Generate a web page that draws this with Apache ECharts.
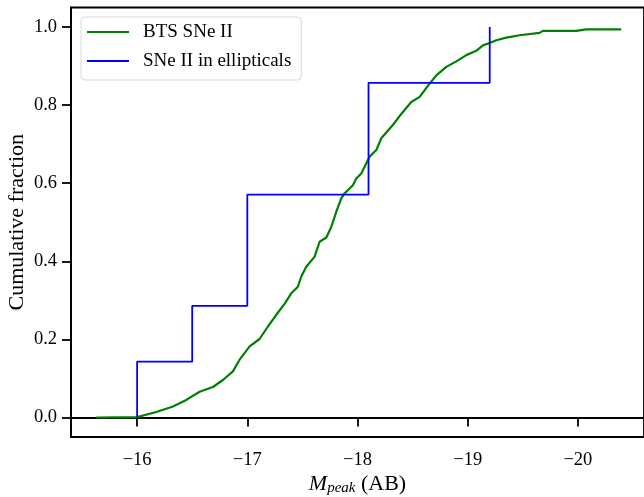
<!DOCTYPE html>
<html>
<head>
<meta charset="utf-8">
<script src="https://cdn.jsdelivr.net/npm/echarts@6/dist/echarts.min.js"></script>
<style>html,body{margin:0;padding:0;background:#fff}#c{width:644px;height:497px}</style>
</head>
<body>
<div id="c"></div>
<script>
// BTS SNe II cumulative distribution
var btsMag = [-15.63,-16.0,-16.174,-16.325,-16.446,-16.567,-16.688,-16.779,-16.869,-16.930,-17.021,-17.111,-17.187,-17.263,-17.338,-17.399,-17.459,-17.490,-17.535,-17.611,-17.656,-17.717,-17.762,-17.808,-17.853,-17.883,-17.958,-17.989,-18.034,-18.080,-18.110,-18.171,-18.216,-18.321,-18.382,-18.488,-18.564,-18.654,-18.715,-18.806,-18.897,-18.987,-19.078,-19.138,-19.199,-19.260,-19.350,-19.471,-19.652,-19.682,-19.985,-20.075,-20.393];
var btsFrac = [0,0.001,0.014,0.028,0.045,0.066,0.078,0.096,0.118,0.148,0.182,0.201,0.233,0.263,0.291,0.318,0.335,0.361,0.386,0.412,0.450,0.461,0.488,0.527,0.561,0.574,0.595,0.612,0.625,0.651,0.668,0.685,0.715,0.749,0.772,0.808,0.821,0.855,0.876,0.898,0.912,0.928,0.939,0.953,0.959,0.966,0.973,0.979,0.985,0.990,0.990,0.994,0.994];
// SNe II in ellipticals (step ECDF)
var ellMag = [-16.0,-16.0,-16.5,-17.0,-17.0,-18.1,-18.1,-19.2];
var ellFrac = [0,0.143,0.286,0.429,0.571,0.714,0.857,1.0];
// tick labels
var xTicks = [-20,-19,-18,-17,-16];
var yTicks = [0,0.2,0.4,0.6,0.8,1.0];

function zip(a,b){var r=[];for(var i=0;i<a.length;i++)r.push([a[i],b[i]]);return r;}
var FONT = '"Liberation Serif", "DejaVu Serif", serif';
var chart = echarts.init(document.getElementById('c'));
chart.setOption({
  animation:false,
  backgroundColor:'#fff',
  grid:{left:71,top:7.5,right:0,bottom:60,containLabel:false,outerBoundsMode:'none',show:true,borderColor:'#000',borderWidth:1.8,backgroundColor:'transparent'},
  legend:{
    left:81, top:17, orient:'vertical',
    data:['BTS SNe II','SNe II in ellipticals'],
    icon:'rect', itemWidth:42, itemHeight:2, itemGap:9,
    padding:[5,10,9,6],
    backgroundColor:'#fff', borderColor:'#d9d9d9', borderWidth:1, borderRadius:4,
    textStyle:{fontFamily:FONT,fontSize:19,color:'#000',lineHeight:20,padding:[0,0,0,9]}
  },
  xAxis:{
    type:'value', inverse:true, min:-20.6, max:-15.4,
    name:'{i|M}{s|peak}{n| (AB)}', nameLocation:'middle', nameGap:36, nameMoveOverlap:false,
    nameTextStyle:{rich:{
      i:{fontFamily:FONT,fontStyle:'italic',fontSize:22,color:'#000'},
      s:{fontFamily:FONT,fontStyle:'italic',fontSize:15,color:'#000',verticalAlign:'bottom',padding:[8,0,0,0]},
      n:{fontFamily:FONT,fontSize:22,color:'#000'}}},
    axisLine:{show:true,lineStyle:{color:'#000',width:1.8}},
    axisTick:{show:true,length:9,lineStyle:{color:'#000',width:1.8},customValues:xTicks},
    axisLabel:{customValues:xTicks,margin:14,fontFamily:FONT,fontSize:18.5,color:'#000',
      formatter:function(v){return (v<0?'\u2212':'')+Math.abs(v);}},
    splitLine:{show:false}
  },
  yAxis:{
    type:'value', min:-0.05, max:1.05,
    name:'Cumulative fraction', nameLocation:'middle', nameGap:43, nameRotate:90, nameMoveOverlap:false,
    nameTextStyle:{fontFamily:FONT,fontSize:22,color:'#000'},
    axisLine:{show:true,lineStyle:{color:'#000',width:1.8}},
    axisTick:{show:true,length:9,lineStyle:{color:'#000',width:1.8},customValues:yTicks},
    axisLabel:{customValues:yTicks,margin:14,fontFamily:FONT,fontSize:18.5,color:'#000',
      formatter:function(v){return v.toFixed(1);}},
    splitLine:{show:false}
  },
  series:[
    {name:'BTS SNe II',type:'line',data:zip(btsMag,btsFrac),showSymbol:false,symbol:'none',
      lineStyle:{color:'#008000',width:2.2},itemStyle:{color:'#008000'},z:2},
    {name:'SNe II in ellipticals',type:'line',step:'end',data:zip(ellMag,ellFrac),showSymbol:false,symbol:'none',
      lineStyle:{color:'#0000ff',width:1.8},itemStyle:{color:'#0000ff'},z:3}
  ]
});
</script>
</body>
</html>
